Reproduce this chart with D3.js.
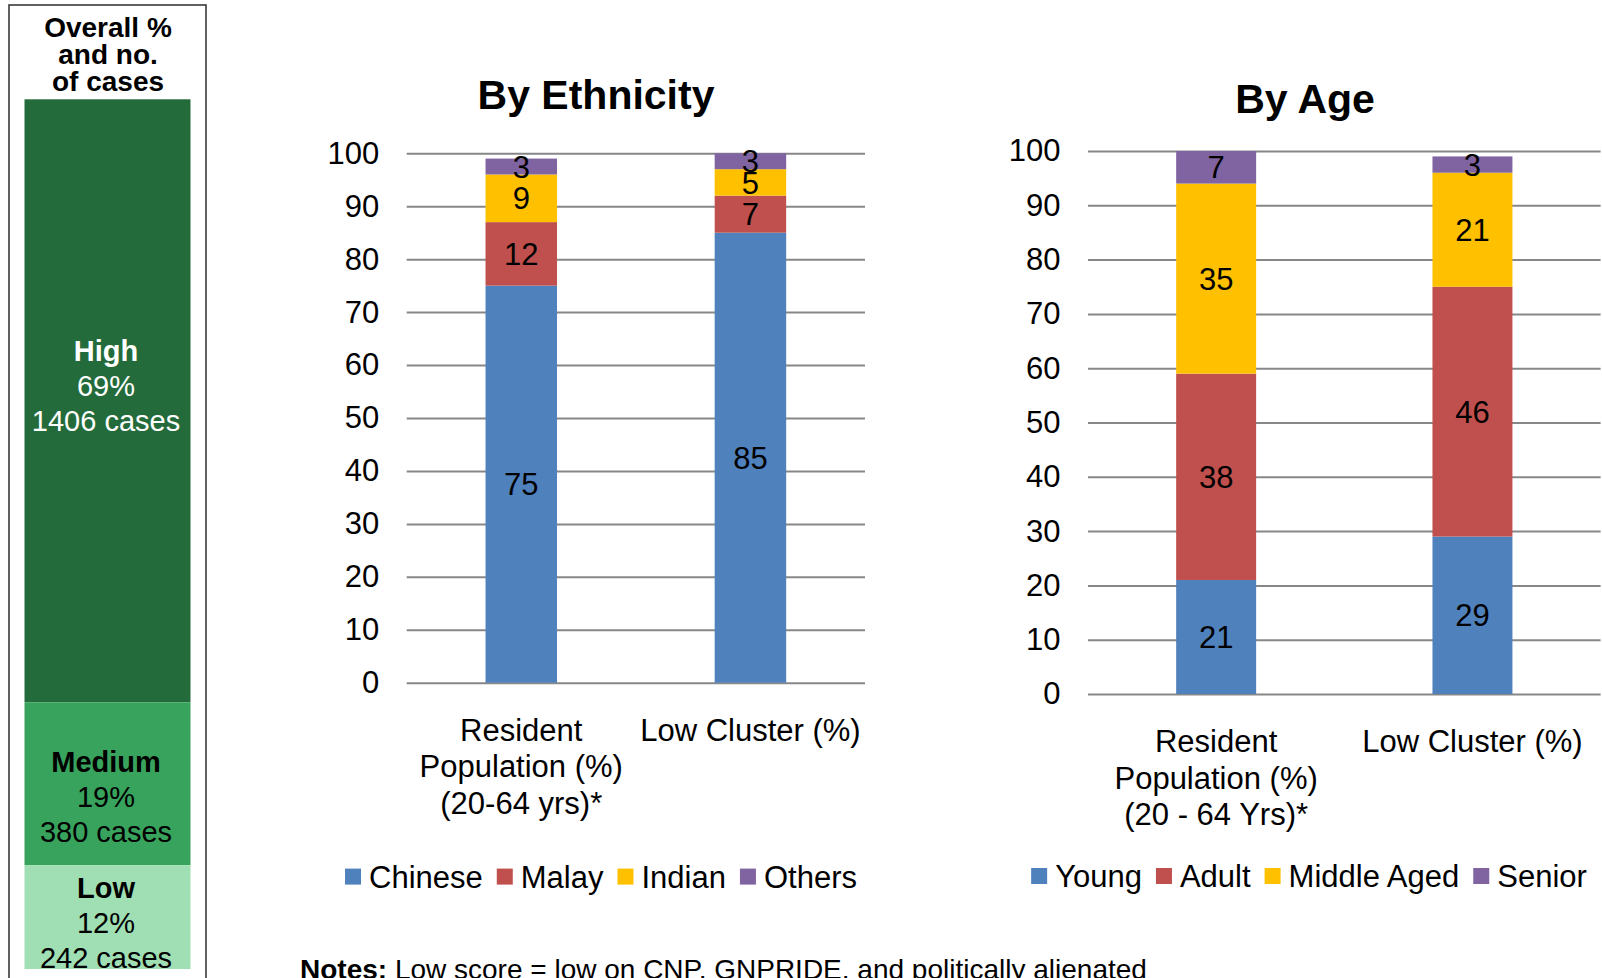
<!DOCTYPE html>
<html>
<head>
<meta charset="utf-8">
<script src="https://cdnjs.cloudflare.com/ajax/libs/d3/7.8.5/d3.min.js"></script>
<style>
  body { margin: 0; background: #fff; }
  svg { display: block; font-family: "Liberation Sans", Arial, sans-serif; }
</style>
</head>
<body>
<div id="chart"></div>
<script>
// Overall panel
const overallLevels = ["High", "Medium", "Low"];
const overallPct = [69, 19, 12];
const overallCases = [1406, 380, 242];

// By Ethnicity
const ethCategories = ["Resident Population (%) (20-64 yrs)*", "Low Cluster (%)"];
const ethCategoryLines = [["Resident", "Population (%)", "(20-64 yrs)*"], ["Low Cluster (%)"]];
const ethSeries = ["Chinese", "Malay", "Indian", "Others"];
const ethChinese = [75, 85];
const ethMalay = [12, 7];
const ethIndian = [9, 5];
const ethOthers = [3, 3];

// By Age
const ageCategories = ["Resident Population (%) (20 - 64 Yrs)*", "Low Cluster (%)"];
const ageCategoryLines = [["Resident", "Population (%)", "(20 - 64 Yrs)*"], ["Low Cluster (%)"]];
const ageSeries = ["Young", "Adult", "Middle Aged", "Senior"];
const ageYoung = [21, 29];
const ageAdult = [38, 46];
const ageMiddle = [35, 21];
const ageSenior = [7, 3];

const yTicks = [0, 10, 20, 30, 40, 50, 60, 70, 80, 90, 100];

const seriesColors = ["#4F81BD", "#C0504D", "#FFC000", "#8064A2"];
const overallColors = ["#246B3B", "#38A35C", "#9FDFB3"];
const overallTextColors = ["#ffffff", "#000000", "#000000"];

const W = 1602, H = 978;

const svg = d3.select("#chart").append("svg")
    .attr("width", W)
    .attr("height", H);

// ---------- left panel ----------
function drawOverall() {
    const box = { left: 9, right: 206, top: 5, bottom: 977, barTop: 99.3, barBottom: 969 };
    const textDy = [-16, 12, 5];

    svg.append("rect")
        .attr("x", box.left)
        .attr("y", box.top)
        .attr("width", box.right - box.left)
        .attr("height", box.bottom - box.top + 10)
        .attr("fill", "none")
        .attr("stroke", "#3a3a3a")
        .attr("stroke-width", 1.6);

    const title = svg.append("text")
        .attr("text-anchor", "middle")
        .style("font-size", "28px")
        .style("font-weight", "bold");
    ["Overall %", "and no.", "of cases"].forEach((t, i) => {
        title.append("tspan").attr("x", 108).attr("y", 36.7 + i * 27).text(t);
    });

    const x = d3.scaleBand().domain(["Overall"]).range([box.left, box.right]).paddingOuter(0.0934);
    const total = d3.sum(overallCases);
    const y = d3.scaleLinear().domain([0, total]).range([box.barTop, box.barBottom]);

    let acc = 0;
    const segs = overallLevels.map((lvl, i) => {
        const s = { level: lvl, pct: overallPct[i], cases: overallCases[i], y0: acc, y1: acc + overallCases[i], i };
        acc += overallCases[i];
        return s;
    });

    svg.selectAll(".overall-seg")
        .data(segs)
        .enter()
        .append("rect")
        .attr("class", "overall-seg")
        .attr("x", x("Overall"))
        .attr("width", x.bandwidth())
        .attr("y", d => y(d.y0))
        .attr("height", d => y(d.y1) - y(d.y0))
        .attr("fill", d => overallColors[d.i]);

    segs.forEach(d => {
        const cy = (y(d.y0) + y(d.y1)) / 2 + textDy[d.i];
        const t = svg.append("text")
            .attr("text-anchor", "middle")
            .style("font-size", "29px")
            .attr("fill", overallTextColors[d.i]);
        t.append("tspan").attr("x", 106).attr("y", cy - 24).style("font-weight", "bold").text(d.level);
        t.append("tspan").attr("x", 106).attr("y", cy + 11).text(d.pct + "%");
        t.append("tspan").attr("x", 106).attr("y", cy + 46).text(d.cases + " cases");
    });
}

// ---------- stacked chart ----------
function drawStacked(cfg) {
    const rows = cfg.categories.map((c, i) => {
        const r = { category: c };
        cfg.series.forEach((s, k) => { r[s] = cfg.values[k][i]; });
        return r;
    });

    const x = d3.scaleBand()
        .domain(cfg.categories)
        .range([cfg.left, cfg.right])
        .paddingInner(0.688)
        .paddingOuter(0.344);

    const y = d3.scaleLinear()
        .domain([0, 100])
        .range([cfg.y0, cfg.y100])
        .clamp(true);

    const g = svg.append("g");

    // gridlines
    const grid = g.append("g")
        .attr("transform", `translate(${cfg.left},0)`)
        .call(d3.axisLeft(y).tickValues(yTicks).tickSize(-(cfg.right - cfg.left)).tickFormat(""));
    grid.select(".domain").remove();
    grid.selectAll("line").attr("stroke", "#878787").attr("stroke-width", 2);

    // tick labels
    const axis = g.append("g")
        .attr("transform", `translate(${cfg.left},0)`)
        .call(d3.axisLeft(y).tickValues(yTicks).tickSize(0).tickPadding(27.5));
    axis.select(".domain").remove();
    axis.selectAll("text")
        .style("font-size", "31px")
        .style("font-family", "'Liberation Sans', Arial, sans-serif")
        .attr("fill", "#000");

    const stacked = d3.stack().keys(cfg.series)(rows);

    const layer = g.selectAll(".layer")
        .data(stacked)
        .enter()
        .append("g")
        .attr("class", "layer")
        .attr("fill", (d, i) => seriesColors[i]);

    layer.selectAll("rect")
        .data(d => d)
        .enter()
        .append("rect")
        .attr("x", d => x(d.data.category))
        .attr("width", x.bandwidth())
        .attr("y", d => y(d[1]))
        .attr("height", d => y(d[0]) - y(d[1]));

    // value labels
    stacked.forEach(s => {
        g.selectAll(null)
            .data(s)
            .enter()
            .append("text")
            .attr("x", d => x(d.data.category) + x.bandwidth() / 2)
            .attr("y", d => (y(d[0]) + y(d[1])) / 2)
            .attr("dy", "0.36em")
            .attr("text-anchor", "middle")
            .style("font-size", "31px")
            .attr("fill", "#000")
            .text(d => d.data[s.key]);
    });

    // category labels
    cfg.categories.forEach((c, i) => {
        const t = g.append("text")
            .attr("text-anchor", "middle")
            .style("font-size", "31px")
            .attr("fill", "#000");
        cfg.categoryLines[i].forEach((line, k) => {
            t.append("tspan")
                .attr("x", x(c) + x.bandwidth() / 2)
                .attr("y", cfg.y0 + 58 + k * 36.5)
                .text(line);
        });
    });

    // title
    g.append("text")
        .attr("x", cfg.titleX)
        .attr("y", cfg.titleY)
        .attr("text-anchor", "middle")
        .style("font-size", "41px")
        .style("font-weight", "bold")
        .text(cfg.title);

    // legend
    const sq = 16, gapText = 8, gapItem = 14;
    const leg = g.append("g");
    const items = cfg.series.map((s, i) => {
        const it = leg.append("g");
        it.append("rect")
            .attr("width", sq)
            .attr("height", sq)
            .attr("y", cfg.legendY - sq / 2)
            .attr("fill", seriesColors[i]);
        const txt = it.append("text")
            .attr("x", sq + gapText)
            .attr("y", cfg.legendY + 11)
            .style("font-size", "31px")
            .attr("fill", "#000")
            .text(s);
        return { it, w: sq + gapText + txt.node().getComputedTextLength() };
    });
    const totalW = d3.sum(items, d => d.w) + gapItem * (items.length - 1);
    let cx = cfg.legendCx - totalW / 2;
    items.forEach(d => {
        d.it.attr("transform", `translate(${cx},0)`);
        cx += d.w + gapItem;
    });
}

drawOverall();

drawStacked({
    title: "By Ethnicity",
    categories: ethCategories,
    categoryLines: ethCategoryLines,
    series: ethSeries,
    values: [ethChinese, ethMalay, ethIndian, ethOthers],
    left: 406.7, right: 865, y0: 682.7, y100: 153.3,
    titleX: 596, titleY: 109,
    legendCx: 601, legendY: 876.6
});

drawStacked({
    title: "By Age",
    categories: ageCategories,
    categoryLines: ageCategoryLines,
    series: ageSeries,
    values: [ageYoung, ageAdult, ageMiddle, ageSenior],
    left: 1088, right: 1600.6, y0: 694, y100: 151,
    titleX: 1305, titleY: 113,
    legendCx: 1309, legendY: 876
});

// notes
const notes = svg.append("text")
    .attr("x", 300)
    .attr("y", 979)
    .style("font-size", "28px")
    .attr("fill", "#000");
notes.append("tspan").style("font-weight", "bold").text("Notes:");
notes.append("tspan").text(" Low score = low on CNP, GNPRIDE, and politically alienated");
</script>
</body>
</html>
